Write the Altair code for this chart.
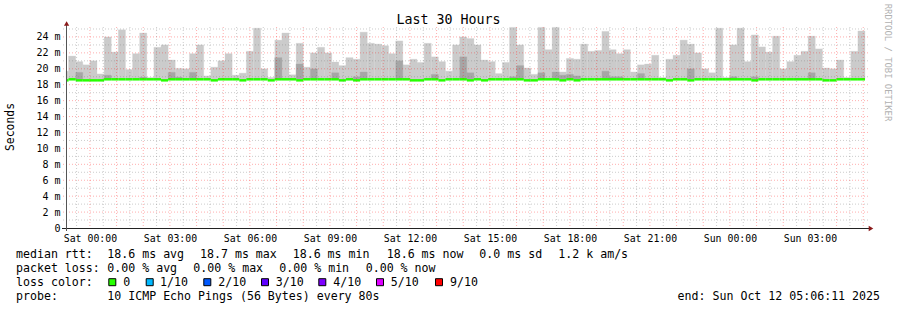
import altair as alt
import pandas as pd

# ---------------- time axis (hours relative to Sat 00:00) ----------------
window_start = -0.897      # Fri 23:06:11
window_end = 29.103        # Sun 05:06:11
first_bar = -0.8           # Fri 23:12, 16-minute consolidation steps
bar_hours = 16 / 60

# ---------------- series values (ms), one per 16-min step ----------------
smoke_max = [19.7,
    21.6, 20.9, 20.5, 21.0, 19.35, 24.0, 22.1, 24.9, 19.9, 21.9,
    24.5, 18.9, 22.7, 23.0, 21.1, 20.05, 20.0, 21.9, 23.0, 19.1,
    20.2, 21.0, 21.9, 19.2, 19.45, 22.2, 25.1, 20.0, 18.9, 23.6,
    24.5, 19.25, 23.2, 20.2, 22.0, 22.7, 22.0, 20.85, 20.4, 21.4,
    21.2, 24.6, 23.2, 23.1, 22.9, 21.9, 23.5, 20.5, 21.2, 20.8,
    23.2, 21.5, 20.9, 19.7, 23.0, 24.0, 23.8, 23.0, 21.1, 20.9,
    19.4, 20.8, 25.2, 23.0, 20.1, 19.3, 25.2, 22.4, 25.2, 19.6,
    21.3, 21.2, 23.1, 22.2, 22.3, 24.7, 22.4, 21.9, 22.4, 19.6,
    20.5, 20.6, 21.7, 18.9, 21.2, 21.7, 23.6, 23.1, 22.0, 20.0,
    19.5, 25.1, 18.9, 23.0, 25.1, 20.9, 24.25, 22.75, 22.1, 24.1,
    20.0, 20.9, 21.7, 22.2, 24.1, 22.5, 20.1, 20.0, 21.1, 18.9,
    22.2, 24.75]

smoke_dark = [0,
    0, 19.55, 0, 0, 0, 19.2, 0, 0, 0, 0,
    18.95, 0, 0, 0, 19.55, 18.95, 0, 19.55, 0, 0,
    0, 0, 0, 0, 0, 0, 0, 0, 0, 21.4,
    0, 0, 20.6, 0, 20.0, 0, 0, 19.5, 0, 0,
    19.0, 19.6, 0, 0, 0, 0, 21.0, 0, 0, 0,
    0, 19.3, 0, 0, 0, 21.5, 19.5, 0, 0, 0,
    0, 0, 19.0, 20.4, 0, 0, 19.5, 0, 19.6, 19.2,
    19.3, 19.1, 0, 0, 0, 19.7, 19.0, 19.0, 0, 0,
    19.4, 0, 0, 0, 0, 0, 0, 20.0, 0, 0,
    0, 0, 0, 19.0, 0, 0, 19.0, 0, 0, 0,
    0, 0, 0, 0, 19.5, 0, 0, 0, 0, 0,
    0, 0]

median_rtt = [
    18.55, 18.68, 18.55, 18.55, 18.55, 18.55, 18.68, 18.68, 18.68, 18.68,
    18.68, 18.68, 18.68, 18.68, 18.55, 18.68, 18.68, 18.68, 18.68, 18.68,
    18.68, 18.55, 18.68, 18.68, 18.68, 18.55, 18.68, 18.68, 18.68, 18.55,
    18.68, 18.68, 18.68, 18.55, 18.68, 18.68, 18.68, 18.68, 18.68, 18.55,
    18.68, 18.55, 18.68, 18.68, 18.68, 18.68, 18.68, 18.68, 18.68, 18.55,
    18.55, 18.68, 18.68, 18.55, 18.68, 18.68, 18.68, 18.55, 18.68, 18.55,
    18.68, 18.68, 18.68, 18.68, 18.68, 18.55, 18.55, 18.68, 18.68, 18.68,
    18.55, 18.68, 18.55, 18.68, 18.68, 18.68, 18.68, 18.68, 18.68, 18.68,
    18.68, 18.68, 18.68, 18.68, 18.68, 18.55, 18.68, 18.68, 18.55, 18.68,
    18.68, 18.68, 18.68, 18.68, 18.68, 18.68, 18.68, 18.55, 18.68, 18.68,
    18.68, 18.68, 18.68, 18.68, 18.68, 18.68, 18.68, 18.55, 18.55, 18.68,
    18.68, 18.68, 18.68]

smoke_floor = 18.65

x_label_hours = [0, 3, 6, 9, 12, 15, 18, 21, 24, 27]
y_label_ms = [0, 2, 4, 6, 8, 10, 12, 14, 16, 18, 20, 22, 24]
grid_major_hours = list(range(0, 30))
grid_minor_hours = [h + 0.5 for h in range(-1, 29)]
grid_major_ms = list(range(2, 25, 2))
grid_minor_ms = list(range(1, 26, 2))

loss_labels = ["0", "1/10", "2/10", "3/10", "4/10", "5/10", "9/10"]
loss_colors = ["#26ff00", "#00b8ff", "#0059ff", "#5e00ff", "#7e00ff", "#dd00ff", "#ff0000"]

title_text = "Last 30 Hours"
y_title = "Seconds"
watermark = "RRDTOOL / TOBI OETIKER"
line_rtt = ["median rtt:", "18.6 ms avg", "18.7 ms max", "18.6 ms min", "18.6 ms now",
            "0.0 ms sd", "1.2 k am/s"]
line_loss = ["packet loss:", "0.00 % avg", "0.00 % max", "0.00 % min", "0.00 % now"]
line_color = "loss color:"
line_probe = ["probe:", "10 ICMP Echo Pings (56 Bytes) every 80s"]
end_text = "end: Sun Oct 12 05:06:11 2025"

# ---------------- layout ----------------
W, H = 800, 201
MONO = "DejaVu Sans Mono"

n = len(smoke_max)
starts = [window_start] + [first_bar + k * bar_hours for k in range(n - 1)]
ends = [first_bar + k * bar_hours for k in range(n)]
df = pd.DataFrame({"start": starts, "end": ends, "lo": [smoke_floor] * n,
                   "hi": smoke_max, "dark": smoke_dark, "med": median_rtt})
df_dark = df[df["dark"] > 0]

xs = alt.Scale(domain=[window_start, window_end], nice=False, zero=False)
ys = alt.Scale(domain=[0, 25.25], nice=False, zero=False)

xaxis = alt.Axis(values=x_label_hours, title=None, grid=False, ticks=False, domain=False,
                 labelExpr="(datum.value < 24 ? 'Sat ' : 'Sun ') + (datum.value % 24 < 10 ? '0' : '') + (datum.value % 24) + ':00'",
                 labelFont=MONO, labelFontSize=9.85, labelColor="#000000", labelPadding=5,
                 labelAngle=0, labelOverlap=False)
yaxis = alt.Axis(values=y_label_ms, title=None, grid=False, ticks=False, domain=False,
                 labelExpr="datum.value == 0 ? '0' : datum.value + ' m'",
                 labelFont=MONO, labelFontSize=10, labelColor="#000000", labelPadding=6,
                 labelOverlap=False)

X = lambda f: alt.X(f, type="quantitative", scale=xs, axis=xaxis)
Y = lambda f: alt.Y(f, type="quantitative", scale=ys, axis=yaxis)

light = alt.Chart(df).mark_rect(color="#cbcbcb", stroke="#cbcbcb", strokeWidth=0.3).encode(
    x=X("start"), x2="end", y=Y("lo"), y2="hi")
dark = alt.Chart(df_dark).mark_rect(color="#a6a6a6", stroke="#a6a6a6", strokeWidth=0.3).encode(
    x=X("start"), x2="end", y=Y("lo"), y2="dark")
median = alt.Chart(df).mark_rule(color="#26ff00", strokeWidth=2.5).encode(
    x=X("start"), x2="end", y=Y("med"))

def vgrid(vals, color, op):
    return alt.Chart(pd.DataFrame({"h": vals})).mark_rule(
        color=color, opacity=op, strokeDash=[1, 2], strokeWidth=1).encode(
        x=X("h"), y=alt.value(0), y2=alt.value(H + 3))

def hgrid(vals, color, op):
    return alt.Chart(pd.DataFrame({"v": vals})).mark_rule(
        color=color, opacity=op, strokeDash=[1, 2], strokeWidth=1).encode(
        y=Y("v"), x=alt.value(-3), x2=alt.value(W + 3))

grid = [vgrid(grid_minor_hours, "#7a7a7a", 0.38), hgrid(grid_minor_ms, "#7a7a7a", 0.38),
        vgrid(grid_major_hours, "#ff0000", 0.32), hgrid(grid_major_ms, "#ff0000", 0.32)]

one = pd.DataFrame({"a": [0]})
xaxis_line = alt.Chart(one).mark_rule(color="#222222", strokeWidth=1).encode(
    x=alt.value(-4), x2=alt.value(W + 4), y=alt.value(H + 0.5))
yaxis_line = alt.Chart(one).mark_rule(color="#555555", strokeWidth=1).encode(
    x=alt.value(0.5), y=alt.value(H + 3), y2=alt.value(-3))
arrow_up = alt.Chart(one).mark_point(shape="triangle-up", filled=True, size=28, color="#8b1a1a", opacity=1).encode(
    x=alt.value(0.6), y=alt.value(-3.5))
arrow_right = alt.Chart(one).mark_point(shape="triangle-right", filled=True, size=28, color="#8b1a1a", opacity=1).encode(
    x=alt.value(W + 5), y=alt.value(H + 0.5))

def txt(s, x, y, size=11.6, align="left", baseline="alphabetic", angle=0, color="#000000"):
    return alt.Chart(pd.DataFrame({"t": [s]})).mark_text(
        font=MONO, fontSize=size, align=align, baseline=baseline, angle=angle, color=color).encode(
        text="t:N", x=alt.value(x), y=alt.value(y))

texts = [
    txt(title_text, 382.5, -3, size=13.3, align="center"),
    txt(y_title, -55, 100, size=11.4, align="center", baseline="middle", angle=270),
    txt(watermark, 822.3, 35.5, size=8.9, align="center", baseline="middle", angle=90, color="#b0b0b0"),
]
rtt_x = [-50, 41.3, 134, 226.7, 320.7, 413.3, 492.3]
for s, x in zip(line_rtt, rtt_x):
    texts.append(txt(s, x, 230.7))
loss_x = [-50, 41.3, 127.3, 213.3, 299.7]
for s, x in zip(line_loss, loss_x):
    texts.append(txt(s, x, 244.7))
texts.append(txt(line_color, -50, 258.7))
sq_x = [46.3, 83.7, 141.3, 199, 256.3, 314, 373]
lab_x = [57.3, 94, 152.3, 209.7, 267.3, 324.7, 384]
for lab, col, sx, lx in zip(loss_labels, loss_colors, sq_x, lab_x):
    texts.append(alt.Chart(one).mark_rect(fill=col, stroke="#000000", strokeWidth=1).encode(
        x=alt.value(sx - 3.5), x2=alt.value(sx + 3.5), y=alt.value(255.2 - 3.5), y2=alt.value(255.2 + 3.5)))
    texts.append(txt(lab, lx, 258.7))
texts.append(txt(line_probe[0], -50, 272.7))
texts.append(txt(line_probe[1], 41.3, 272.7))
texts.append(txt(end_text, 814, 272.7, align="right"))

chart = alt.layer(light, dark, median, *grid, xaxis_line, yaxis_line, arrow_up, arrow_right, *texts).properties(
    width=W, height=H,
    autosize=alt.AutoSizeParams(type="none"),
    padding={"left": 66, "top": 27, "right": 31, "bottom": 82},
    background="#ffffff",
).configure_view(strokeWidth=0)

chart.save("out.html", embed_options={"renderer": "svg", "actions": False})
